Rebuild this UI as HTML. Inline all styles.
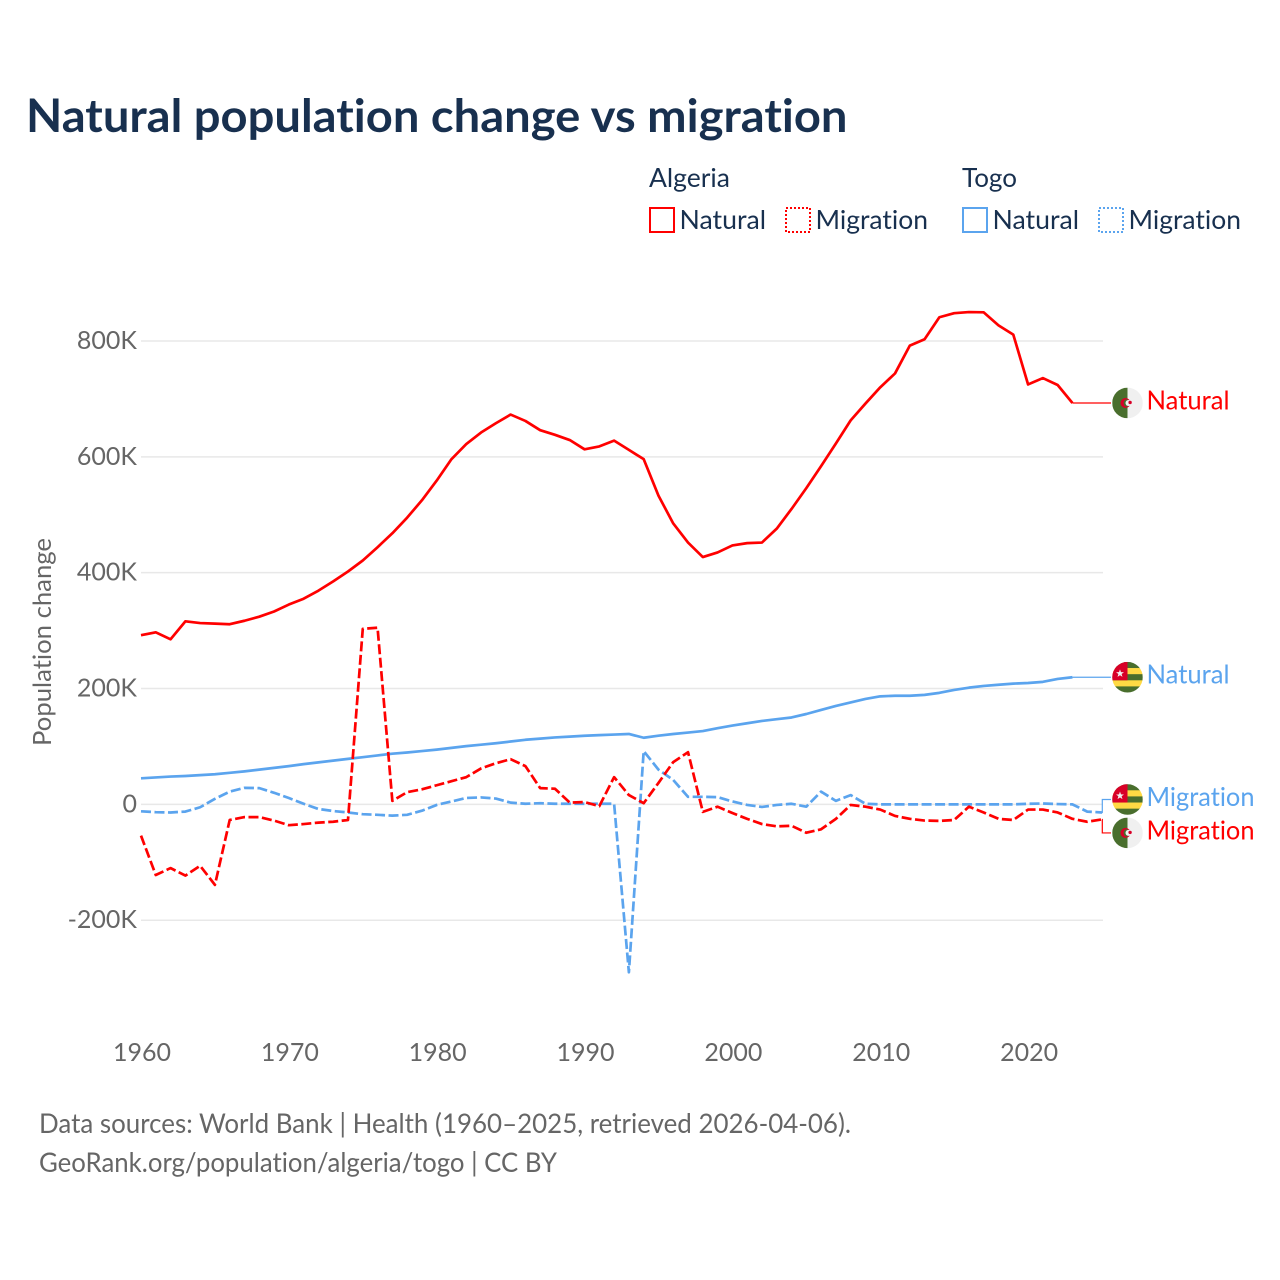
<!DOCTYPE html>
<html lang="en">
<head>
<meta charset="utf-8">
<title>Natural population change vs migration</title>
<style>
html,body{margin:0;padding:0;background:#fff;}
svg{display:block;}
text{font-family:"Lato","Carlito","Liberation Sans",sans-serif;font-variant-ligatures:none;font-feature-settings:"liga" 0,"clig" 0;}
</style>
</head>
<body>
<svg id="chart" xmlns="http://www.w3.org/2000/svg" width="1280" height="1280" viewBox="0 0 1280 1280">
  <rect x="0" y="0" width="1280" height="1280" fill="#ffffff"/>
  <text x="26" y="132" font-size="46" font-weight="700" fill="#18304f" textLength="821.5" lengthAdjust="spacingAndGlyphs">Natural population change vs migration</text>

  <g font-size="26" fill="#18304f">
    <text x="649" y="187" textLength="81" lengthAdjust="spacingAndGlyphs">Algeria</text>
    <text x="962" y="187" textLength="55" lengthAdjust="spacingAndGlyphs">Togo</text>
    <rect x="650" y="208" width="24" height="24" fill="none" stroke="#ff0000" stroke-width="2"/>
    <text x="679.5" y="229" textLength="86.5" lengthAdjust="spacingAndGlyphs">Natural</text>
    <rect x="786" y="208" width="24" height="24" fill="none" stroke="#ff0000" stroke-width="2" stroke-dasharray="2 2"/>
    <text x="815.5" y="229" textLength="112.5" lengthAdjust="spacingAndGlyphs">Migration</text>
    <rect x="963" y="208" width="24" height="24" fill="none" stroke="#5ba4ee" stroke-width="2"/>
    <text x="992.5" y="229" textLength="86.5" lengthAdjust="spacingAndGlyphs">Natural</text>
    <rect x="1099" y="208" width="24" height="24" fill="none" stroke="#5ba4ee" stroke-width="2" stroke-dasharray="2 2"/>
    <text x="1128.5" y="229" textLength="112.5" lengthAdjust="spacingAndGlyphs">Migration</text>
  </g>

  <g id="grid"></g>
  <g id="y-ticks"></g>
  <g id="x-ticks"></g>
  <text transform="translate(51,642) rotate(-90)" text-anchor="middle" font-size="25" fill="#666666" textLength="208" lengthAdjust="spacingAndGlyphs">Population change</text>
  <g id="series"></g>
  <g id="end-labels"></g>

  <g font-size="27" fill="#666666">
    <text x="39" y="1133" textLength="812" lengthAdjust="spacingAndGlyphs">Data sources: World Bank | Health (1960–2025, retrieved 2026-04-06).</text>
    <text x="39" y="1172" textLength="518" lengthAdjust="spacingAndGlyphs">GeoRank.org/population/algeria/togo | CC BY</text>
  </g>
</svg>
<script>
const years = [1960,1961,1962,1963,1964,1965,1966,1967,1968,1969,1970,1971,1972,1973,1974,1975,1976,1977,1978,1979,1980,1981,1982,1983,1984,1985,1986,1987,1988,1989,1990,1991,1992,1993,1994,1995,1996,1997,1998,1999,2000,2001,2002,2003,2004,2005,2006,2007,2008,2009,2010,2011,2012,2013,2014,2015,2016,2017,2018,2019,2020,2021,2022,2023,2024,2025];
const algeriaNatural = [292,297,285,316,313,312,311,317,324,333,345,355,369,385,402,421,444,468,495,525,559,596,622,642,658,673,662,646,638,629,613,618,628,612,596,533,485,452,427,435,447,451,452,476,510,546,584,623,663,692,720,744,792,803,841,848,850,849.5,827,811,725,736,724,693];
const togoNatural = [45,46.5,48,49,50.5,52,54.5,57,60,63,66,69.5,72.5,75.5,78.5,81.5,84.5,87.5,89.5,92,94.5,97.5,100.5,103,105.5,108.5,111.5,113.5,115.5,117,118.5,119.5,120.5,121.5,115,118.5,121.5,124,126.5,131.5,136,140,144,147,150,156,163,170,176,182,186.5,187.5,187.5,189,192.5,197.5,201.5,204.5,206.5,208.5,209.5,211.5,216.5,219.5];
const algeriaMigration = [-54,-122,-110,-123,-106,-139,-27,-22,-22,-28,-36,-34,-31.5,-30,-27,303,305,6,21,26,33,40,47,62,71,78,66,28,27,3,4,-3,47,16,2,37,73,90,-13,-4,-15,-25,-34,-38,-37,-49,-43,-25,-1,-4,-9,-20,-25,-28,-28.5,-27,-4,-14,-25,-27,-9,-9,-14,-25,-30,-26];
const togoMigration = [-12,-13.5,-14,-12.5,-5,9.5,22,28.5,28,20,11,1,-8,-11.5,-14,-17,-18,-19.5,-18,-11,-1,5,11,12,10,3,1,2,1,1,1,1,1,-290,92,60,42,13,13,12.5,5,-1,-4.5,-1,1,-4,22,6,16,1,0,0,0,0,0,0,0,0,0,0,1,1.5,0.5,0,-12.5,-14];
const yTickValues = [800,600,400,200,0,-200];
const yTickLabels = ['800K','600K','400K','200K','0','-200K'];
const xTickValues = [1960,1970,1980,1990,2000,2010,2020];
const xTickLabels = ['1960','1970','1980','1990','2000','2010','2020'];

const NS = 'http://www.w3.org/2000/svg';
const RED = '#ff0000', BLUE = '#5ba4ee';
const xDomain = [1960, 2025], xRange = [141, 1102];
const yDomain = [-200, 800], yRange = [920.2, 341];
function x(v){ return xRange[0] + (v - xDomain[0]) / (xDomain[1] - xDomain[0]) * (xRange[1] - xRange[0]); }
function y(v){ return yRange[0] + (v - yDomain[0]) / (yDomain[1] - yDomain[0]) * (yRange[1] - yRange[0]); }
function make(tag, attrs, parent){
  const el = document.createElementNS(NS, tag);
  for (const k in attrs) el.setAttribute(k, attrs[k]);
  parent.appendChild(el);
  return el;
}

const gridG = document.getElementById('grid');
const yG = document.getElementById('y-ticks');
yTickValues.forEach((v, i) => {
  const line = make('line', {x1: 141, x2: 1103, y1: y(v), y2: y(v), stroke: '#e8e8e8', 'stroke-width': 1.5}, gridG);
  
  
  const label = yTickLabels[i];
  const t = make('text', {x: 137, y: y(v) + 8, 'text-anchor': 'end', 'font-size': 25, fill: '#666666'}, yG);
  
  
  t.textContent = label;
});

const xG = document.getElementById('x-ticks');
xTickValues.forEach((v, i) => {
  const t = make('text', {x: x(v) + 1, y: 1061, 'text-anchor': 'middle', 'font-size': 25, fill: '#666666'}, xG);
  
  
  t.textContent = xTickLabels[i];
});

function linePath(values){
  return values.map((v, i) => (i ? 'L' : 'M') + x(years[i]).toFixed(2) + ' ' + y(v).toFixed(2)).join(' ');
}
const seriesG = document.getElementById('series');

const lineTogoNatural = make('path', {d: linePath(togoNatural), fill: 'none', stroke: BLUE, 'stroke-width': 2.7, 'stroke-linejoin': 'round'}, seriesG);



const lineTogoMigration = make('path', {d: linePath(togoMigration), fill: 'none', stroke: BLUE, 'stroke-width': 2.7, 'stroke-dasharray': '10 3.5', 'stroke-linejoin': 'round'}, seriesG);



const lineAlgeriaNatural = make('path', {d: linePath(algeriaNatural), fill: 'none', stroke: RED, 'stroke-width': 2.7, 'stroke-linejoin': 'round'}, seriesG);



const lineAlgeriaMigration = make('path', {d: linePath(algeriaMigration), fill: 'none', stroke: RED, 'stroke-width': 2.7, 'stroke-dasharray': '10 3.5', 'stroke-linejoin': 'round'}, seriesG);



const labelsG = document.getElementById('end-labels');
const FLAG_X = 1127.5, FLAG_R = 15.3;
let clipCount = 0;

function drawFlag(country, cy, parent){
  const g = make('g', {}, parent);
  
  
  const id = 'flag-clip-' + (clipCount++);
  const cp = make('clipPath', {id: id}, g);
  make('circle', {cx: FLAG_X, cy: cy, r: FLAG_R}, cp);
  const inner = make('g', {'clip-path': 'url(#' + id + ')'}, g);
  const L = FLAG_X - FLAG_R, T = cy - FLAG_R, S = FLAG_R * 2;
  if (country === 'algeria') {
    make('rect', {x: L, y: T, width: S, height: S, fill: '#f0f0f0'}, inner);
    make('rect', {x: L, y: T, width: FLAG_R, height: S, fill: '#496e2d'}, inner);
    const cx = FLAG_X - 2;
    make('circle', {cx: cx, cy: cy, r: 5, fill: '#d80027'}, inner);
    const ir = 3.9;
    make('path', {d: 'M' + FLAG_X + ' ' + (cy - ir) + ' A' + ir + ' ' + ir + ' 0 0 0 ' + FLAG_X + ' ' + (cy + ir) + ' Z', fill: '#496e2d'}, inner);
    make('circle', {cx: FLAG_X + 1, cy: cy, r: 3, fill: '#f0f0f0'}, inner);
    make('circle', {cx: FLAG_X + 2.6, cy: cy - 0.5, r: 1.7, fill: '#d80027'}, inner);
  } else {
    const stripe = S / 5;
    ['#496e2d', '#ffda44', '#496e2d', '#ffda44', '#496e2d'].forEach((c, i) => {
      make('rect', {x: L, y: T + i * stripe, width: S, height: stripe + 0.3, fill: c}, inner);
    });
    make('rect', {x: L, y: T, width: FLAG_R, height: stripe * 3, fill: '#d80027'}, inner);
    const sx = L + 7.8, sy = T + 11.6, pts = [];
    for (let i = 0; i < 10; i++) {
      const r = i % 2 ? 1.7 : 4.2, a = -Math.PI / 2 + i * Math.PI / 5;
      pts.push((sx + r * Math.cos(a)).toFixed(2) + ',' + (sy + r * Math.sin(a)).toFixed(2));
    }
    make('polygon', {points: pts.join(' '), fill: '#f0f0f0'}, inner);
  }
}

function drawEnd(name, country, values, color, cy, labelWidth, text){
  const lastX = x(years[values.length - 1]), lastY = y(values[values.length - 1]);
  const elbowX = 1102.3;
  const pts = Math.abs(lastY - cy) < 0.8
    ? 'M' + lastX + ' ' + lastY + ' L1111 ' + lastY
    : 'M' + lastX + ' ' + lastY + ' L' + elbowX + ' ' + lastY + ' L' + elbowX + ' ' + cy + ' L1111 ' + cy;
  const c = make('path', {d: pts, fill: 'none', stroke: color, 'stroke-width': 1.2}, labelsG);
  
  
  drawFlag(country, cy, labelsG);
  const t = make('text', {x: 1146.5, y: cy + 6.5, 'font-size': 26, fill: color, textLength: labelWidth, lengthAdjust: 'spacingAndGlyphs'}, labelsG);
  
  
  t.textContent = text;
}

drawEnd('algeria-natural', 'algeria', algeriaNatural, RED, y(algeriaNatural[algeriaNatural.length - 1]), 83, 'Natural');
drawEnd('togo-natural', 'togo', togoNatural, BLUE, y(togoNatural[togoNatural.length - 1]), 83, 'Natural');
drawEnd('togo-migration', 'togo', togoMigration, BLUE, y(togoMigration[togoMigration.length - 1]) - 13, 108, 'Migration');
drawEnd('algeria-migration', 'algeria', algeriaMigration, RED, y(algeriaMigration[algeriaMigration.length - 1]) + 13.5, 108, 'Migration');
</script>
</body>
</html>
